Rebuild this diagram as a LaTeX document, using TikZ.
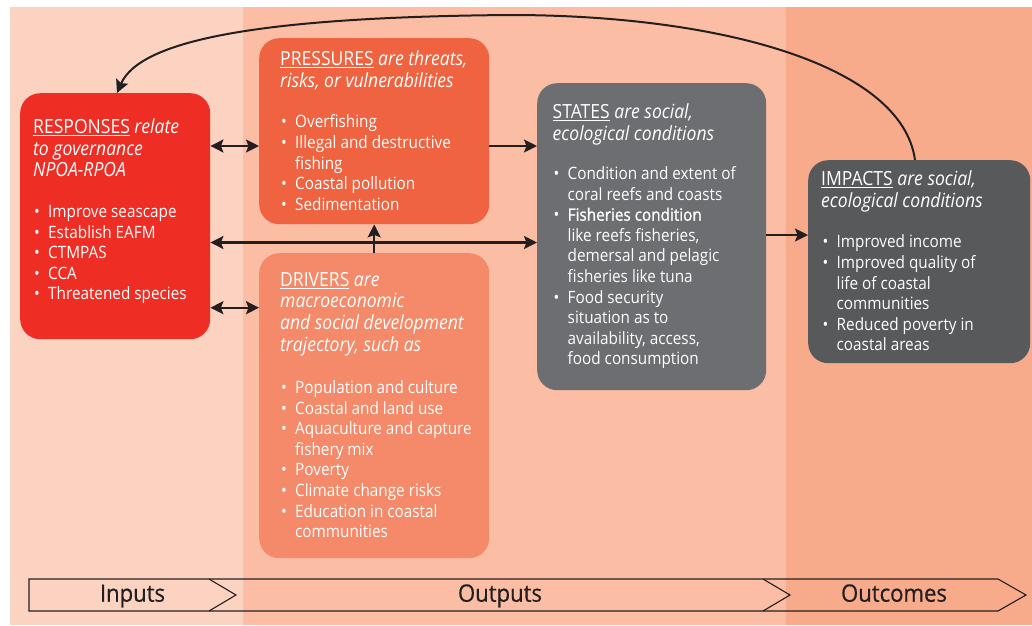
\documentclass[tikz,border=0pt]{standalone}
\usepackage{fontspec}
\setmainfont[FakeStretch=0.9]{Open Sans}
\newfontfamily\semib[FakeStretch=0.9,FakeBold=1.2]{Open Sans}
\newfontfamily\lblfont[FakeStretch=0.92,FakeBold=0.6]{Open Sans}
\usetikzlibrary{arrows.meta}
\definecolor{colA}{HTML}{FCD3C1}
\definecolor{colB}{HTML}{FBBEA5}
\definecolor{colC}{HTML}{F8AB8B}
\definecolor{respred}{HTML}{EE2D24}
\definecolor{presor}{HTML}{F06341}
\definecolor{drvor}{HTML}{F48A69}
\definecolor{stgray}{HTML}{6D6E71}
\definecolor{imgray}{HTML}{58595B}
\definecolor{ink}{HTML}{231F20}
\newcommand\bu{\makebox[13pt][l]{\hspace{-1pt}•}}
\newcommand\ct{\hspace*{13pt}}
\begin{document}
\begin{tikzpicture}[x=1pt,y=-1pt,
  box/.style={rounded corners=20pt, inner sep=0pt, draw=none, anchor=north west},
  ttl/.style={anchor=north west, inner sep=0pt, align=left, text=white, font=\fontsize{19.5}{21.7}\selectfont},
  lst/.style={anchor=north west, inner sep=0pt, align=left, text=white, font=\fontsize{17}{20.6}\selectfont},
  arr/.style={draw=ink, line width=2.2pt, -{Stealth[length=13pt,width=13pt,inset=2.5pt]}},
  darr/.style={draw=ink, line width=2.2pt, {Stealth[length=13pt,width=13pt,inset=2.5pt]}-{Stealth[length=13pt,width=13pt,inset=2.5pt]}},
  chev/.style={draw=ink, line width=1.1pt, line join=miter},
  lbl/.style={inner sep=0pt, anchor=base, text=ink, font=\lblfont\fontsize{24}{28}\selectfont}
]
\useasboundingbox (0,0) rectangle (1032,625);
\fill[white] (0,0) rectangle (1032,625);
\fill[colA] (10,7) rectangle (243,625);
\fill[colB] (243,7) rectangle (786,625);
\fill[colC] (786,7) rectangle (1032,625);

% boxes
\node[box, fill=respred, minimum width=190pt, minimum height=246pt] (resp) at (20,93) {};
\node[box, fill=presor, minimum width=230pt, minimum height=186pt] (pres) at (259,38) {};
\node[box, fill=drvor, minimum width=230pt, minimum height=305pt] (drv) at (259,253) {};
\node[box, fill=stgray, minimum width=229pt, minimum height=307pt] (states) at (537,83) {};
\node[box, fill=imgray, minimum width=222pt, minimum height=203pt] (imp) at (808,160) {};

% titles
\node[ttl] (respT) at (33,118.1) {\strut\underline{RESPONSES} \textit{relate}\\\textit{to governance}\\\textit{NPOA-RPOA}};
\node[ttl] (presT) at (280,50.5) {\strut\underline{PRESSURES} \textit{are threats,}\\\textit{risks, or vulnerabilities}};
\node[ttl] (drvT) at (280,270.8) {\strut\underline{DRIVERS} \textit{are}\\\textit{macroeconomic}\\\textit{and social development}\\\textit{trajectory, such as}};
\node[ttl] (statesT) at (552.5,103.5) {\strut\underline{STATES} \textit{are social,}\\\textit{ecological conditions}};
\node[ttl] (impT) at (821,170.5) {\strut\underline{IMPACTS} \textit{are social,}\\\textit{ecological conditions}};

% lists
\node[lst] (respL) at (35,202.9) {\strut\bu Improve seascape\\\bu Establish EAFM\\\bu CTMPAS\\\bu CCA\\\bu Threatened species};
\node[lst] (presL) at (282,113.3) {\strut\bu Overfishing\\\bu Illegal and destructive\\\ct fishing\\\bu Coastal pollution\\\bu Sedimentation};
\node[lst] (drvL) at (282,378.9) {\strut\bu Population and culture\\\bu Coastal and land use\\\bu Aquaculture and capture\\\ct fishery mix\\\bu Poverty\\\bu Climate change risks\\\bu Education in coastal\\\ct communities};
\node[lst] (statesL) at (554.5,164.9) {\strut\bu Condition and extent of\\\ct coral reefs and coasts\\\bu {\semib Fisheries condition}\\\ct like reefs fisheries,\\\ct demersal and pelagic\\\ct fisheries like tuna\\\bu Food security\\\ct situation as to\\\ct availability, access,\\\ct food consumption};
\node[lst] (impL) at (823.5,233.3) {\strut\bu Improved income\\\bu Improved quality of\\\ct life of coastal\\\ct communities\\\bu Reduced poverty in\\\ct coastal areas};

% connectors
\draw[darr] (resp.east |- 0,146) -- (pres.west |- 0,146);
\draw[darr] (resp.east |- 0,242.5) -- (states.west |- 0,242.5);
\draw[darr] (resp.east |- 0,307.7) -- (drv.west |- 0,307.7);
\draw[arr] (drv.north) -- (pres.south);
\draw[arr] (pres.east |- 0,146) -- (states.west |- 0,146);
\draw[arr] (states.east |- 0,235) -- (imp.west |- 0,235);
\coordinate (impTop) at (imp.north -| 915,0);
\coordinate (respTop) at (resp.north -| 117,0);
\coordinate (peak) at (510,15);
\draw[arr, line width=2pt] (impTop) .. controls (902,65) and (720,15) .. (peak) .. controls (260,17) and (140,40) .. (respTop);

% bottom chevrons
\coordinate (c1) at (29,579);
\draw[chev] (209,579) -- (c1) -- (29,611) -- (209,611) -- (236,595) -- cycle;
\draw[chev] (209,579) -- (763,579) -- (790,595) -- (763,611) -- (209,611);
\draw[chev] (763,579) -- (998,579) -- (1026,595) -- (998,611) -- (763,611);
\node[lbl] (inp) at (132.5,601.7) {Inputs};
\node[lbl] (outp) at (500,601.7) {Outputs};
\node[lbl] (outc) at (894,601.7) {Outcomes};
\end{tikzpicture}
\end{document}
